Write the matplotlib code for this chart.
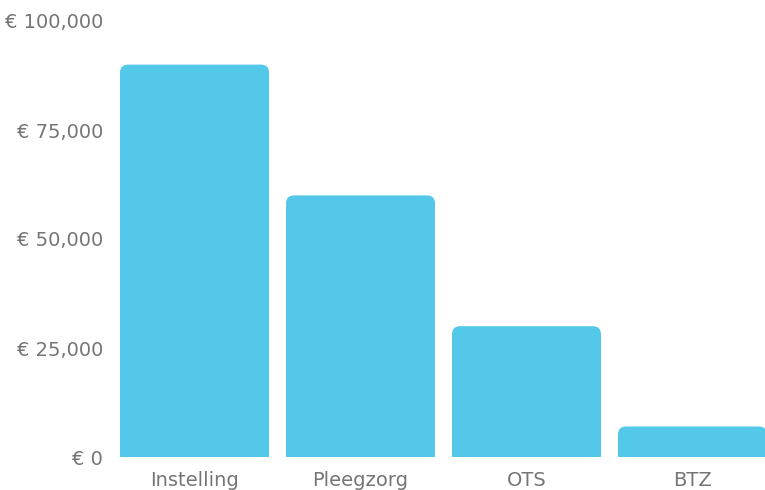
import matplotlib
matplotlib.use("Agg")
import matplotlib.pyplot as plt
from matplotlib.patches import FancyBboxPatch
from matplotlib.ticker import FuncFormatter

categories = ["Instelling", "Pleegzorg", "OTS", "BTZ"]
values = [90000, 60000, 30000, 7000]
yticks = [0, 25000, 50000, 75000, 100000]

plt.rcParams['font.family'] = ['DejaVu Sans']

W, H = 765, 490
fig = plt.figure(figsize=(W / 100, H / 100), dpi=100)
left_px, right_px = 111.5, 111.5 + 4 * 166
top_px, bottom_px = 21, 457
ax = fig.add_axes([left_px / W, (H - bottom_px) / H, (right_px - left_px) / W, (bottom_px - top_px) / H])

color = "#53c8e9"
bw = 149 / 166
x = list(range(len(categories)))
bars = ax.bar(x, values, width=bw, color="none")
ax.set_xlim(-0.5, len(categories) - 0.5)
ax.set_ylim(0, 100000)

r_px = 8
rx = r_px / 166
ry = r_px * 100000 / 436
for b in bars:
    bx, bwid, bh = b.get_x(), b.get_width(), b.get_height()
    p = FancyBboxPatch((bx, -2 * ry), bwid, bh + 2 * ry,
                       boxstyle=f"round,pad=0,rounding_size={rx}",
                       mutation_aspect=ry / rx, facecolor=color, edgecolor="none",
                       clip_on=True)
    ax.add_patch(p)

for s in ax.spines.values():
    s.set_visible(False)
ax.set_xticks(x)
ax.set_xticklabels(categories)
ax.set_yticks(yticks)
ax.yaxis.set_major_formatter(FuncFormatter(lambda v, p: "€ {:,.0f}".format(v)))
ax.tick_params(axis="both", length=0, labelsize=14, labelcolor="#757575")
ax.tick_params(axis="y", pad=6)
ax.tick_params(axis="x", pad=10)

fig.savefig("out.png", dpi=100)
